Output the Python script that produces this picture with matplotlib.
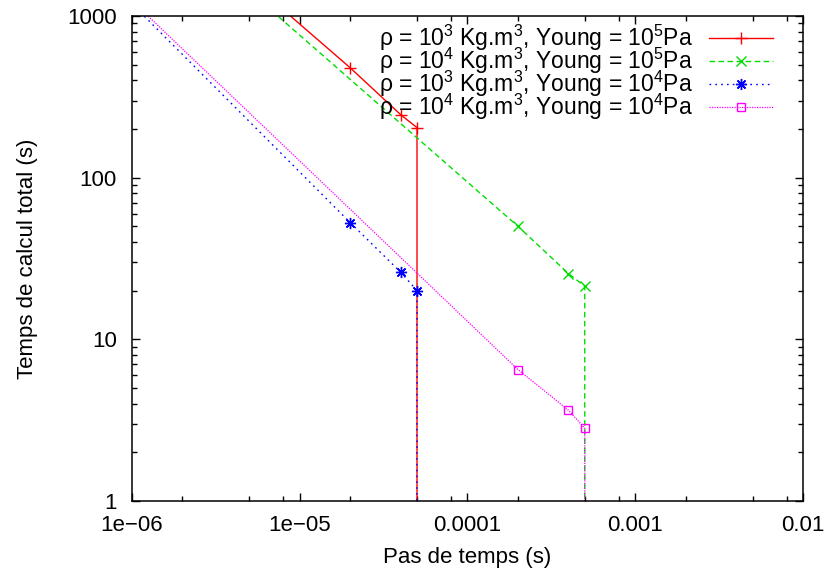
import numpy as np
import matplotlib
matplotlib.use("Agg")
import matplotlib.pyplot as plt
from matplotlib.ticker import LogLocator, NullFormatter, FixedLocator

# ── Fonts ──────────────────────────────────────────────────────────────────
plt.rcParams["font.family"] = ["Liberation Sans", "DejaVu Sans"]
plt.rcParams["mathtext.fontset"] = "custom"
plt.rcParams["mathtext.rm"] = "Liberation Sans"
plt.rcParams["mathtext.default"] = "regular"

FS = 16

# ── Data (0 = run diverged) ────────────────────────────────────────────────
dt_rho3_y5 = [1e-6, 2e-5, 4e-5, 5e-5, 5e-5]
t_rho3_y5 = [7060, 478, 245, 204, 0]

dt_rho4_y5 = [1e-6, 2e-4, 4e-4, 5e-4, 5e-4]
t_rho4_y5 = [6165, 50, 25.5, 21.3, 0]

dt_rho3_y4 = [1e-6, 2e-5, 4e-5, 5e-5, 5e-5]
t_rho3_y4 = [1188, 52.7, 26, 20, 0]

dt_rho4_y4 = [1e-6, 2e-4, 4e-4, 5e-4, 5e-4]
t_rho4_y4 = [1243, 6.5, 3.64, 2.82, 0]

labels = [
    "ρ = 10$^3$ Kg.m$^3$, Young = 10$^5$Pa",
    "ρ = 10$^4$ Kg.m$^3$, Young = 10$^5$Pa",
    "ρ = 10$^3$ Kg.m$^3$, Young = 10$^4$Pa",
    "ρ = 10$^4$ Kg.m$^3$, Young = 10$^4$Pa",
]

x_ticks = [1e-6, 1e-5, 1e-4, 1e-3, 1e-2]
x_ticklabels = ["1e\u221206", "1e\u221205", "0.0001", "0.001", "0.01"]
y_ticks = [1, 10, 100, 1000]
y_ticklabels = ["1", "10", "100", "1000"]

# ── Plot ───────────────────────────────────────────────────────────────────
fig = plt.figure(figsize=(8.29, 5.75), dpi=100)
ax = fig.add_axes([132 / 829, 1 - 501 / 575, 671 / 829, 485 / 575])
ax.set_xscale("log", nonpositive="clip")
ax.set_yscale("log", nonpositive="clip")

ax.plot(dt_rho3_y5, t_rho3_y5, color="#ff0000", lw=1.0, ls="-",
        marker="+", ms=8, mew=1.0, label=labels[0])
ax.plot(dt_rho4_y5, t_rho4_y5, color="#00dd00", lw=1.0, ls=(0, (4, 2.5)),
        marker="x", ms=7, mew=1.0, label=labels[1])
ax.plot(dt_rho3_y4, t_rho3_y4, color="#0000ff", lw=1.0, ls=(0, (1.2, 3)),
        marker=(8, 2, 0), ms=8, mew=1.0, label=labels[2])
ax.plot(dt_rho4_y4, t_rho4_y4, color="#ff00ff", lw=0.9, ls=(0, (1, 1)),
        marker="s", ms=6, mew=1.0, mfc="none", label=labels[3])

ax.set_xlim(1e-6, 1e-2)
ax.set_ylim(1, 1000)

ax.xaxis.set_major_locator(FixedLocator(x_ticks))
ax.set_xticklabels(x_ticklabels)
ax.xaxis.set_minor_locator(LogLocator(base=10, subs=(2, 5, 8), numticks=20))
ax.xaxis.set_minor_formatter(NullFormatter())
ax.yaxis.set_major_locator(FixedLocator(y_ticks))
ax.set_yticklabels(y_ticklabels)
ax.yaxis.set_minor_locator(LogLocator(base=10, subs=np.arange(2, 10), numticks=20))
ax.yaxis.set_minor_formatter(NullFormatter())

ax.tick_params(which="both", direction="in", top=True, right=True,
               labelsize=FS, width=1.0)
ax.tick_params(which="major", length=6)
ax.tick_params(which="minor", length=3.5)
ax.tick_params(axis="x", which="major", pad=10)
ax.tick_params(axis="y", which="major", pad=11)
for s in ax.spines.values():
    s.set_linewidth(1.1)

ax.set_xlabel("Pas de temps (s)", fontsize=FS, labelpad=8)
ax.set_ylabel("Temps de calcul total (s)", fontsize=FS, labelpad=21)

ax.legend(loc="upper right", bbox_to_anchor=(0.955, 0.985), frameon=False,
          markerfirst=False, fontsize=16.5, handlelength=2.8, handletextpad=0.7,
          labelspacing=-0.32, borderpad=0, borderaxespad=0)

fig.savefig("out.png", dpi=100)
